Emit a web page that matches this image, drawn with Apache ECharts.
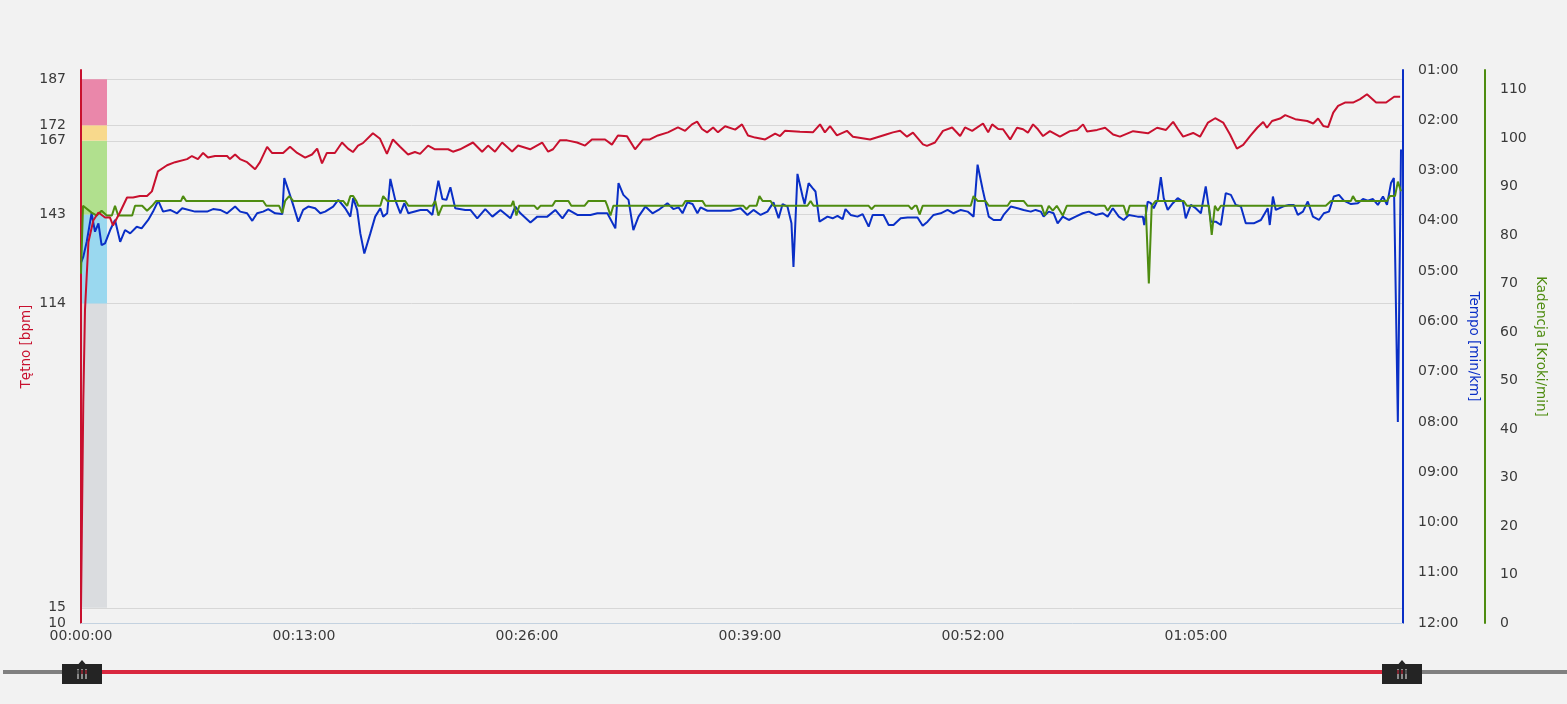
<!DOCTYPE html>
<html>
<head>
<meta charset="utf-8">
<script src="https://cdn.jsdelivr.net/npm/echarts@6/dist/echarts.min.js"></script>
<style>
html,body{margin:0;padding:0;background:#f2f2f2;}
#chart{width:1567px;height:704px;}
</style>
</head>
<body>
<div id="chart"></div>
<script>
// ---------------- data ----------------
const hrSec = [0,3,8,14,26,43,61,84,101,112,136,161,182,206,231,248,269,301,329,371,388,409,427,444,469,511,521,539,556,581,609,626,651,668,707,731,756,784,808,826,843,860,888,913,934,951,969,986,1021,1046,1070,1091,1116,1144,1168,1186,1214,1238,1284,1301,1326,1371,1403,1424,1448,1473,1508,1529,1571,1613,1634,1651,1675,1700,1735,1763,1787,1833,1857,1878,1910,1938,1966,1990,2018,2053,2088,2113,2137,2155,2172,2190,2211,2228,2253,2288,2312,2333,2358,2393,2428,2445,2462,2515,2560,2585,2602,2620,2644,2679,2700,2760,2819,2840,2865,2889,2910,2945,2959,2987,3015,3047,3075,3092,3117,3155,3173,3187,3208,3225,3250,3274,3295,3312,3330,3347,3365,3389,3424,3459,3484,3505,3519,3554,3582,3610,3634,3680,3732,3764,3795,3820,3837,3855,3890,3914,3942,3967,3995,4019,4043,4065,4089,4114,4135,4148,4166,4194,4212,4247,4289,4310,4327,4345,4362,4380,4397,4421,4449,4474,4498,4530,4565,4593,4614];
const hrBpm = [15,40,82,112,134,141,143.6,142,142,139.4,143.6,148.5,148.5,149,149,150.5,157,159,160,161,162,161,163,161.5,162,162,161,162.5,161,160,157.7,160,165,163,163,165,163,161.5,162.5,164.4,159.6,163,163,166.4,164.4,163.3,165.4,166.2,169.4,167.6,162.7,167.4,165,162.5,163.3,162.7,165.4,164.2,164.2,163.4,164.2,166.4,163.4,165.4,163.4,166.4,163.5,165.4,164.2,166.4,163.4,164.2,167.1,167.1,166.4,165.4,167.4,167.4,165.7,168.7,168.4,164.2,167.4,167.4,168.7,169.7,171.3,170.2,172.3,173.2,170.8,169.7,171.3,169.7,171.7,170.6,172.3,168.7,168,167.4,169.3,168.5,170.2,169.9,169.7,172.3,169.7,171.7,168.7,170.2,168.3,167.4,169.1,169.7,170.2,168.3,169.6,165.8,165.3,166.4,170.2,171.3,168.5,171.3,170.2,172.6,169.7,172.3,170.8,170.7,167.4,171.2,170.7,169.6,172.3,170.7,168.5,170.1,168.3,170.1,170.5,172.3,170,170.5,171.2,169,168.3,170.1,169.4,171.2,170.5,173.1,170.7,168.3,169.5,168.3,172.9,174.3,172.9,169,164.4,165.6,168.5,171.2,173.1,171.2,173.4,174.2,175.3,174,173.4,172.6,174.2,171.8,171.4,176.1,178.3,179.4,179.4,180.5,182.1,179.4,179.4,181.3,181.3];

const paceSec = [0,8,20,37,49,61,72,84,102,119,137,154,172,195,212,235,252,270,287,312,336,354,399,441,462,487,511,539,557,581,599,616,637,655,679,704,711,725,742,760,777,795,819,837,854,882,900,924,942,952,966,977,991,1012,1029,1047,1057,1071,1082,1099,1117,1131,1145,1187,1211,1229,1239,1250,1264,1278,1292,1309,1344,1362,1386,1414,1439,1467,1502,1519,1537,1572,1596,1631,1659,1684,1705,1736,1782,1806,1841,1869,1880,1897,1915,1932,1950,1974,1999,2020,2051,2072,2090,2104,2121,2139,2156,2167,2191,2272,2307,2331,2352,2377,2401,2422,2440,2454,2471,2485,2492,2506,2524,2531,2545,2559,2569,2583,2611,2629,2646,2664,2674,2692,2716,2734,2755,2769,2807,2825,2842,2867,2891,2926,2944,2961,2982,3007,3031,3052,3077,3101,3122,3136,3154,3175,3192,3217,3227,3252,3276,3297,3322,3339,3357,3367,3385,3402,3416,3434,3455,3479,3504,3525,3549,3574,3591,3609,3630,3647,3665,3696,3714,3719,3731,3742,3752,3766,3777,3787,3801,3819,3836,3854,3864,3882,3899,3917,3934,3952,3969,3987,4004,4022,4039,4057,4074,4102,4127,4151,4158,4169,4179,4204,4225,4242,4256,4274,4291,4309,4330,4347,4365,4382,4400,4417,4442,4466,4484,4501,4519,4536,4554,4568,4582,4592,4606,4617];
// pace in seconds per km
const pacePerKm = [290,283,265,231,253,243,269,267,251,239,265,251,255,247,249,239,229,216,229,227,231,225,229,229,226,227,231,223,229,231,240,231,229,226,231,232,189,203,221,241,227,223,225,231,229,223,215,225,235,213,227,255,279,255,235,225,235,231,190,215,231,219,231,227,227,233,213,192,214,215,200,225,227,227,237,226,235,227,237,223,231,242,235,235,227,237,227,233,233,231,231,249,195,209,215,251,235,223,231,227,219,226,224,231,218,220,231,224,228,228,225,233,227,233,229,218,237,220,223,243,295,184,211,220,195,201,205,241,235,237,234,238,226,233,235,232,247,233,233,245,245,237,236,236,246,241,233,231,227,231,227,229,235,173,203,235,239,239,233,223,225,227,229,227,229,235,229,231,243,235,239,235,231,229,233,231,235,225,235,239,233,235,235,245,217,219,225,215,188,213,227,219,213,217,237,221,225,231,199,241,241,245,207,209,221,223,243,243,239,225,245,211,227,223,221,221,233,229,217,235,239,231,229,211,209,216,220,219,214,216,214,221,211,221,195,189,480,155];

const cadSec = [0,7,37,55,72,90,108,119,130,179,189,214,231,249,263,350,357,368,637,648,693,704,714,728,742,917,931,942,952,963,970,1047,1057,1071,1134,1145,1229,1239,1250,1264,1505,1512,1523,1533,1586,1596,1607,1649,1659,1705,1715,1761,1775,1834,1841,1852,1862,2104,2114,2174,2184,2317,2328,2338,2363,2373,2384,2412,2422,2541,2552,2562,2755,2765,2776,2895,2905,2916,2923,2933,2944,3112,3122,3136,3164,3175,3241,3252,3297,3311,3360,3371,3385,3399,3413,3434,3448,3581,3591,3602,3647,3658,3668,3724,3735,3745,3759,3857,3868,3945,3955,3966,3976,3987,4354,4372,4442,4449,4459,4568,4578,4596,4606,4617];
const cadSpm = [72,86,84.6,84,85,84,84,86,84,84,86,86,85,86,87,87,88,87,87,86,86,84.5,87,88,87,87,86,88,88,87,86,86,88,87,87,86,86,87,84,86,86,87,84,86,86,85.3,86,86,87,87,86,86,87,87,86,84,86,86,87,87,86,86,85.3,86,86,88,87,87,86,86,87,86,86,85.3,86,86,85.3,86,86,84.2,86,86,88,87,87,86,86,87,87,86,86,84,86,85,86,84,86,86,85,86,86,84,86,86,70,86,87,87,86,86,80,86,85,86,86,87,87,88,87,87,88,88,91,89];

// heart-rate zones (bpm) and axis ticks
const zoneBounds = [[15,114],[114,143],[143,167],[167,172],[172,187]];
const hrTicks = [10,15,114,143,167,172,187];
const hrGridLevels = [15,114,143,167,172,187];
const cadTicks = [0,10,20,30,40,50,60,70,80,90,100,110];
const timeTickStep = 780; // 00:13:00

// ---------------- styling ----------------
const zoneColors = ['#dadcdf','#9ad8ef','#b1e08e','#f8d98c','#ea87aa'];
const RED = '#c8102e', BLUE = '#0a2fc6', GREEN = '#4e8c10';
const FONT = 'DejaVu Sans';
const ZONE_W = 25;

const pad = n => String(n).padStart(2,'0');
const hms = s => pad(Math.floor(s/3600)) + ':' + pad(Math.floor(s%3600/60)) + ':' + pad(Math.round(s%60));
const ms = s => pad(Math.floor(s/60)) + ':' + pad(Math.round(s%60));

const hrData = hrSec.map((t,i)=>[t,hrBpm[i]]);
const paceData = paceSec.map((t,i)=>[t,pacePerKm[i]]);
const cadData = cadSec.map((t,i)=>[t,cadSpm[i]]);

const labelStyle = {color:'#3a3a3a', fontFamily: FONT, fontSize: 14};

const chart = echarts.init(document.getElementById('chart'), null, {renderer:'canvas'});
chart.setOption({
  backgroundColor: '#f2f2f2',
  animation: false,
  grid: {left: 81, right: 164, top: 70, bottom: 81, containLabel: false},
  xAxis: {
    type: 'value', min: 0, max: 4624, interval: timeTickStep,
    axisLine: {show: true, lineStyle: {color: '#c4d2e0', width: 1}},
    axisTick: {show: false},
    splitLine: {show: false},
    axisLabel: Object.assign({}, labelStyle, {margin: 6, formatter: v => hms(v), showMaxLabel: false})
  },
  yAxis: [
    {
      type: 'value', min: 10, max: 190, position: 'left',
      name: 'Tętno [bpm]', nameLocation: 'middle', nameGap: 48, nameRotate: 90, nameMoveOverlap: false,
      nameTextStyle: {color: RED, fontFamily: FONT, fontSize: 13.5},
      axisLine: {show: true, lineStyle: {color: RED, width: 2}},
      axisTick: {show: false},
      splitLine: {show: false},
      axisLabel: Object.assign({}, labelStyle, {margin: 15, customValues: hrTicks})
    },
    {
      type: 'value', min: 60, max: 720, interval: 60, inverse: true, position: 'right', offset: 0,
      name: 'Tempo [min/km]', nameLocation: 'middle', nameGap: 63, nameRotate: -90, nameMoveOverlap: false,
      nameTextStyle: {color: BLUE, fontFamily: FONT, fontSize: 13.5},
      axisLine: {show: true, lineStyle: {color: BLUE, width: 2}},
      axisTick: {show: false},
      splitLine: {show: false},
      axisLabel: Object.assign({}, labelStyle, {margin: 15, formatter: v => ms(v)})
    },
    {
      type: 'value', min: 0, max: 114, position: 'right', offset: 82,
      name: 'Kadencja [Kroki/min]', nameLocation: 'middle', nameGap: 48, nameRotate: -90, nameMoveOverlap: false,
      nameTextStyle: {color: GREEN, fontFamily: FONT, fontSize: 13.5},
      axisLine: {show: true, lineStyle: {color: GREEN, width: 2}},
      axisTick: {show: false},
      splitLine: {show: false},
      axisLabel: Object.assign({}, labelStyle, {margin: 15, customValues: cadTicks})
    }
  ],
  dataZoom: [{
    type: 'slider', xAxisIndex: 0, filterMode: 'none', start: 0, end: 100,
    left: 80, right: 165, top: 670, height: 4,
    backgroundColor: 'transparent', borderColor: 'transparent', fillerColor: '#d9283f',
    showDataShadow: false, showDetail: false, brushSelect: false, moveHandleSize: 0,
    dataBackground: {lineStyle: {opacity: 0}, areaStyle: {opacity: 0}},
    selectedDataBackground: {lineStyle: {opacity: 0}, areaStyle: {opacity: 0}},
    handleIcon: 'path://M0 0L40 0L40 20L23.5 20L20 24L16.5 20L0 20Z M15.5 5L15.5 15L16.5 15L16.5 5Z M19.5 5L19.5 15L20.5 15L20.5 5Z M23.5 5L23.5 15L24.5 15L24.5 5Z',
    handleSize: '1000%',
    handleStyle: {color: '#242424', borderWidth: 0},
    emphasis: {handleStyle: {color: '#242424', borderWidth: 0}}
  }],
  graphic: [
    {type: 'rect', z: 0, silent: true, shape: {x: 3, y: 670, width: 77, height: 4}, style: {fill: '#808080'}},
    {type: 'rect', z: 0, silent: true, shape: {x: 1402, y: 670, width: 165, height: 4}, style: {fill: '#808080'}}
  ],
  series: [
    {
      type: 'custom', name: 'grid', coordinateSystem: 'cartesian2d', xAxisIndex: 0, yAxisIndex: 0,
      silent: true, z: 0,
      data: hrGridLevels.map(v => [0, v]),
      encode: {x: 0, y: 1},
      renderItem: (params, api) => {
        const p = api.coord([0, api.value(1)]);
        const cs = params.coordSys;
        const y = Math.round(p[1]) + 0.5;
        return {type: 'line', shape: {x1: cs.x, y1: y, x2: cs.x + cs.width, y2: y},
                style: {stroke: '#d7d7d7', lineWidth: 1}};
      }
    },
    {
      type: 'custom', name: 'zones', coordinateSystem: 'cartesian2d', xAxisIndex: 0, yAxisIndex: 0,
      silent: true, z: 1,
      data: zoneBounds.map(b => [0, b[0], b[1]]),
      encode: {x: 0, y: [1, 2]},
      renderItem: (params, api) => {
        const lo = api.coord([0, api.value(1)]);
        const hi = api.coord([0, api.value(2)]);
        const cs = params.coordSys;
        return {type: 'rect', shape: {x: cs.x + 1, y: hi[1], width: ZONE_W, height: lo[1] - hi[1]},
                style: {fill: zoneColors[params.dataIndex]}};
      }
    },
    {
      type: 'line', name: 'Tempo', xAxisIndex: 0, yAxisIndex: 1, z: 3,
      data: paceData, showSymbol: false, symbol: 'none', sampling: null,
      lineStyle: {color: BLUE, width: 2}, itemStyle: {color: BLUE}
    },
    {
      type: 'line', name: 'Kadencja', xAxisIndex: 0, yAxisIndex: 2, z: 4,
      data: cadData, showSymbol: false, symbol: 'none',
      lineStyle: {color: GREEN, width: 2}, itemStyle: {color: GREEN}
    },
    {
      type: 'line', name: 'Tętno', xAxisIndex: 0, yAxisIndex: 0, z: 5,
      data: hrData, showSymbol: false, symbol: 'none',
      lineStyle: {color: RED, width: 2}, itemStyle: {color: RED}
    }
  ]
});
</script>
</body>
</html>
